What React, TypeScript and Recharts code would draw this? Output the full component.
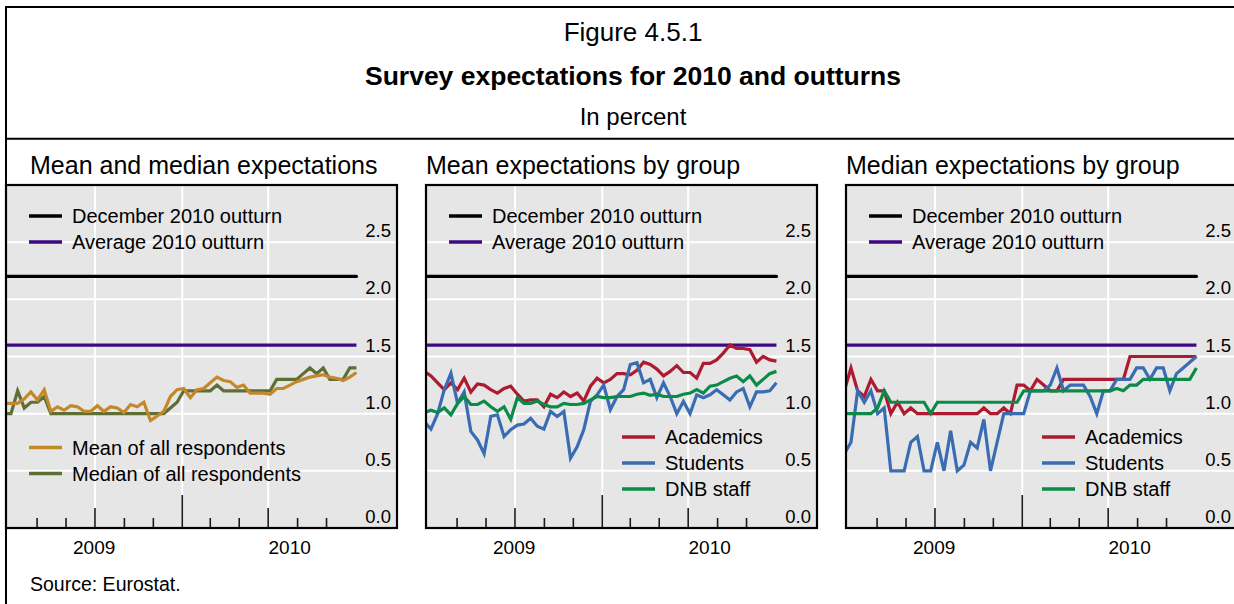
import React from "react";
import { LineChart, Line, XAxis, YAxis, CartesianGrid } from "recharts";

// fortnightly survey rounds, in days since 1 January 2009
const SURVEY_DAYS = Array.from({ length: 54 }, (_, i) => -10 + 14 * i);

const DEC_2010_OUTTURN = 2.2;
const AVG_2010_OUTTURN = 1.6;

const MEAN_ALL = [
  1.09, 1.09, 1.09, 1.13, 1.19, 1.12, 1.21, 1.02, 1.06, 1.03, 1.07, 1.06, 1.02, 1.02, 1.07, 1.02, 1.06, 1.05,
  1.01, 1.08, 1.06, 1.1, 0.94, 0.98, 1.02, 1.15, 1.21, 1.22, 1.14, 1.21, 1.22, 1.27, 1.32, 1.29, 1.28, 1.23,
  1.25, 1.18, 1.18, 1.18, 1.17, 1.22, 1.22, 1.25, 1.28, 1.3, 1.32, 1.33, 1.34, 1.32, 1.31, 1.29, 1.32, 1.36,
];
const MEDIAN_ALL = [
  1.0, 1.0, 1.2, 1.05, 1.1, 1.1, 1.15, 1.0, 1.0, 1.0, 1.0, 1.0, 1.0, 1.0, 1.0, 1.0, 1.0, 1.0,
  1.0, 1.0, 1.0, 1.0, 1.0, 1.0, 1.0, 1.05, 1.1, 1.2, 1.2, 1.2, 1.2, 1.2, 1.25, 1.2, 1.2, 1.2,
  1.2, 1.2, 1.2, 1.2, 1.2, 1.3, 1.3, 1.3, 1.3, 1.35, 1.4, 1.35, 1.4, 1.3, 1.3, 1.3, 1.4, 1.4,
];

const MEAN_ACADEMICS = [
  1.37, 1.33, 1.27, 1.21, 1.27, 1.21, 1.31, 1.19, 1.26, 1.25, 1.21, 1.18, 1.22, 1.24, 1.17, 1.11, 1.12, 1.12,
  1.06, 1.17, 1.14, 1.19, 1.15, 1.18, 1.11, 1.24, 1.31, 1.27, 1.3, 1.35, 1.35, 1.34, 1.38, 1.45, 1.43, 1.39,
  1.33, 1.37, 1.42, 1.36, 1.36, 1.31, 1.44, 1.44, 1.47, 1.53, 1.6, 1.57, 1.57, 1.56, 1.45, 1.5, 1.47, 1.46,
];
const MEAN_STUDENTS = [
  0.93, 0.865, 1.0, 1.21, 1.355, 1.09, 1.19, 0.845, 0.77, 0.65, 0.976, 0.99, 0.8, 0.86, 0.9, 0.91, 0.96, 0.89,
  0.865, 1.02, 0.976, 1.02, 0.61, 0.71, 0.86, 1.107, 1.165, 1.25, 1.034, 1.15, 1.21, 1.43, 1.445, 1.27, 1.3, 1.14,
  1.27, 1.15, 1.0, 1.107, 1.0, 1.165, 1.14, 1.165, 1.21, 1.165, 1.12, 1.19, 1.22, 1.06, 1.19, 1.19, 1.2, 1.27,
];
const MEAN_DNB = [
  1.01, 1.03, 1.01, 1.05, 0.99, 1.09, 1.15, 1.08, 1.08, 1.11, 1.06, 1.02, 1.06, 0.95, 1.14, 1.09, 1.09, 1.11,
  1.08, 1.06, 1.06, 1.09, 1.08, 1.08, 1.09, 1.12, 1.15, 1.14, 1.14, 1.15, 1.15, 1.15, 1.17, 1.18, 1.16, 1.17,
  1.15, 1.15, 1.15, 1.17, 1.18, 1.21, 1.18, 1.24, 1.25, 1.28, 1.31, 1.33, 1.28, 1.33, 1.25, 1.3, 1.35, 1.37,
];

const MEDIAN_ACADEMICS = [
  1.2, 1.4, 1.2, 1.15, 1.3, 1.2, 1.2, 1.0, 1.1, 1.0, 1.05, 1.0, 1.0, 1.0, 1.0, 1.0, 1.0, 1.0,
  1.0, 1.0, 1.0, 1.05, 1.0, 1.0, 1.05, 1.0, 1.25, 1.25, 1.2, 1.3, 1.25, 1.2, 1.2, 1.3, 1.3, 1.3,
  1.3, 1.3, 1.3, 1.3, 1.3, 1.3, 1.3, 1.5, 1.5, 1.5, 1.5, 1.5, 1.5, 1.5, 1.5, 1.5, 1.5, 1.5,
];
const MEDIAN_STUDENTS = [
  0.65, 0.75, 1.2, 1.1, 1.2, 1.0, 1.05, 0.5, 0.5, 0.5, 0.75, 0.8, 0.5, 0.5, 0.75, 0.5, 0.85, 0.5,
  0.55, 0.75, 0.7, 0.95, 0.5, 0.75, 1.0, 1.0, 1.0, 1.0, 1.2, 1.2, 1.2, 1.25, 1.4, 1.2, 1.25, 1.25,
  1.25, 1.15, 1.0, 1.2, 1.2, 1.3, 1.3, 1.3, 1.4, 1.4, 1.3, 1.4, 1.4, 1.2, 1.35, 1.4, 1.45, 1.5,
];
const MEDIAN_DNB = [
  1.0, 1.0, 1.0, 1.0, 1.0, 1.05, 1.2, 1.1, 1.1, 1.1, 1.1, 1.1, 1.1, 1.0, 1.1, 1.1, 1.1, 1.1,
  1.1, 1.1, 1.1, 1.1, 1.1, 1.1, 1.1, 1.1, 1.1, 1.2, 1.2, 1.2, 1.2, 1.2, 1.2, 1.2, 1.2, 1.2,
  1.2, 1.2, 1.2, 1.2, 1.2, 1.22, 1.2, 1.25, 1.25, 1.3, 1.3, 1.3, 1.3, 1.3, 1.3, 1.3, 1.3, 1.4,
];

// axis: days since 1 Jan 2009
const X_DOMAIN: [number, number] = [-6.5, 817.5];
const MONTH_TICKS = [59, 120, 181, 243, 304, 365, 424, 485, 546, 608, 669];
const MID_YEAR_TICKS = [181, 546];
const YEAR_BREAK = 365;
const GRID_DAYS = [181, 365, 546];
const YEARS = [
  { label: "2009", from: X_DOMAIN[0], to: YEAR_BREAK },
  { label: "2010", from: YEAR_BREAK, to: X_DOMAIN[1] },
];
const Y_TICKS = [0, 0.5, 1, 1.5, 2, 2.5];

const FONT = "'Liberation Sans', Arial, Helvetica, sans-serif";
const BLACK = "#000000";
const PURPLE = "#3d0884";
const COLORS = {
  mean: "#c4882c",
  median: "#5e6f36",
  academics: "#ae1a2f",
  students: "#3a6cb4",
  dnb: "#0b8a48",
};

const PANEL_W = 391;
const PANEL_TOP = 185;
const PLOT_H = 343;
const AXIS_H = 45;
const PANEL_LEFTS = [6, 426, 846];

const yearMid = (y: { from: number; to: number }) => (y.from + y.to) / 2;
const X_TICKS = [...MONTH_TICKS, ...YEARS.map(yearMid)].sort((a, b) => a - b);

type Series = { key: string; name: string; values: number[]; color: string };

function XTick(props: any) {
  const { x, y, payload } = props;
  const v = payload.value;
  const year = YEARS.find((yr) => yearMid(yr) === v);
  if (year) {
    return (
      <text x={x} y={y + 26} textAnchor="middle" fontFamily={FONT} fontSize={19} fill="#000">
        {year.label}
      </text>
    );
  }
  const len = v === YEAR_BREAK ? 33 : MID_YEAR_TICKS.includes(v) ? 20 : 10;
  return <line x1={x} x2={x} y1={y} y2={y - len} stroke="#1a1a1a" strokeWidth={1.6} />;
}

function YTick(props: any) {
  const { y, payload } = props;
  return (
    <text x={PANEL_W - 6} y={y - 5} textAnchor="end" fontFamily={FONT} fontSize={18.5} fill="#000">
      {Number(payload.value).toFixed(1)}
    </text>
  );
}

function Panel({ left, series }: { left: number; series: Series[] }) {
  const rows = SURVEY_DAYS.map((day, i) => {
    const row: Record<string, number> = { day };
    series.forEach((s) => (row[s.key] = s.values[i]));
    return row;
  });

  return (
    <div style={{ position: "absolute", left, top: PANEL_TOP, width: PANEL_W, height: PLOT_H + AXIS_H }}>
      <LineChart width={PANEL_W} height={PLOT_H + AXIS_H} data={rows} margin={{ top: 0, right: 0, bottom: 0, left: 0 }}>
        <CartesianGrid stroke="#ffffff" strokeWidth={2} fill="#e6e6e6" verticalValues={GRID_DAYS} />
        <XAxis
          dataKey="day"
          type="number"
          domain={X_DOMAIN}
          allowDataOverflow
          ticks={X_TICKS}
          interval={0}
          tickSize={0}
          tickMargin={0}
          axisLine={false}
          tickLine={false}
          height={AXIS_H}
          tick={<XTick />}
        />
        <YAxis
          type="number"
          domain={[0, 3]}
          ticks={Y_TICKS}
          interval={0}
          orientation="right"
          mirror
          width={40}
          axisLine={false}
          tickLine={false}
          tick={<YTick />}
        />
        <Line
          dataKey={() => DEC_2010_OUTTURN}
          stroke={BLACK}
          strokeWidth={3.2}
          dot={false}
          strokeLinecap="round"
          isAnimationActive={false}
        />
        <Line
          dataKey={() => AVG_2010_OUTTURN}
          stroke={PURPLE}
          strokeWidth={3.2}
          dot={false}
          isAnimationActive={false}
        />
        {series.map((s) => (
          <Line
            key={s.key}
            dataKey={s.key}
            name={s.name}
            stroke={s.color}
            strokeWidth={3.2}
            dot={false}
            type="linear"
            isAnimationActive={false}
          />
        ))}
      </LineChart>
    </div>
  );
}

function LegendRows({ x, y, items }: { x: number; y: number; items: { name: string; color: string }[] }) {
  return (
    <g>
      {items.map((it, i) => (
        <g key={it.name}>
          <line x1={x} x2={x + 33} y1={y + i * 26} y2={y + i * 26} stroke={it.color} strokeWidth={3.5} />
          <text x={x + 43} y={y + i * 26 + 7} fontFamily={FONT} fontSize={20} fill="#000">
            {it.name}
          </text>
        </g>
      ))}
    </g>
  );
}

const OUTTURN_LEGEND = [
  { name: "December 2010 outturn", color: BLACK },
  { name: "Average 2010 outturn", color: PURPLE },
];

export default function App() {
  const allSeries: Series[] = [
    { key: "median", name: "Median of all respondents", values: MEDIAN_ALL, color: COLORS.median },
    { key: "mean", name: "Mean of all respondents", values: MEAN_ALL, color: COLORS.mean },
  ];
  const meanGroups: Series[] = [
    { key: "academics", name: "Academics", values: MEAN_ACADEMICS, color: COLORS.academics },
    { key: "students", name: "Students", values: MEAN_STUDENTS, color: COLORS.students },
    { key: "dnb", name: "DNB staff", values: MEAN_DNB, color: COLORS.dnb },
  ];
  const medianGroups: Series[] = [
    { key: "academics", name: "Academics", values: MEDIAN_ACADEMICS, color: COLORS.academics },
    { key: "students", name: "Students", values: MEDIAN_STUDENTS, color: COLORS.students },
    { key: "dnb", name: "DNB staff", values: MEDIAN_DNB, color: COLORS.dnb },
  ];
  const groupLegend = meanGroups.map((s) => ({ name: s.name, color: s.color }));
  const titles = ["Mean and median expectations", "Mean expectations by group", "Median expectations by group"];
  const titleX = [30, 426, 846];

  return (
    <div style={{ position: "absolute", left: 0, top: 0, width: 1234, height: 604, background: "#fff", overflow: "hidden" }}>
      <Panel left={PANEL_LEFTS[0]} series={allSeries} />
      <Panel left={PANEL_LEFTS[1]} series={meanGroups} />
      <Panel left={PANEL_LEFTS[2]} series={medianGroups} />
      <svg
        width={1234}
        height={604}
        style={{ position: "absolute", left: 0, top: 0, pointerEvents: "none" }}
      >
        <line x1={6} x2={1234} y1={7} y2={7} stroke="#000" strokeWidth={2} />
        <line x1={6} x2={6} y1={6} y2={604} stroke="#000" strokeWidth={2} />
        <line x1={6} x2={1234} y1={138.7} y2={138.7} stroke="#000" strokeWidth={2} />
        <text x={633} y={41} textAnchor="middle" fontFamily={FONT} fontSize={26} fill="#000">
          Figure 4.5.1
        </text>
        <text x={633} y={84.5} textAnchor="middle" fontFamily={FONT} fontSize={26.5} fontWeight="bold" fill="#000">
          Survey expectations for 2010 and outturns
        </text>
        <text x={633} y={124.5} textAnchor="middle" fontFamily={FONT} fontSize={24} fill="#000">
          In percent
        </text>
        {titles.map((t, i) => (
          <text key={t} x={titleX[i]} y={174} fontFamily={FONT} fontSize={25} fill="#000">
            {t}
          </text>
        ))}
        {PANEL_LEFTS.map((l) => (
          <g key={l}>
            <rect x={l} y={PANEL_TOP} width={PANEL_W} height={PLOT_H} fill="none" stroke="#000" strokeWidth={2.2} />
            <LegendRows x={l + 23} y={216} items={OUTTURN_LEGEND} />
          </g>
        ))}
        <LegendRows
          x={PANEL_LEFTS[0] + 23}
          y={447.5}
          items={[
            { name: "Mean of all respondents", color: COLORS.mean },
            { name: "Median of all respondents", color: COLORS.median },
          ]}
        />
        <LegendRows x={PANEL_LEFTS[1] + 196} y={437} items={groupLegend} />
        <LegendRows x={PANEL_LEFTS[2] + 196} y={437} items={groupLegend} />
        <text x={30} y={591} fontFamily={FONT} fontSize={19.5} fill="#000">
          Source: Eurostat.
        </text>
      </svg>
    </div>
  );
}
